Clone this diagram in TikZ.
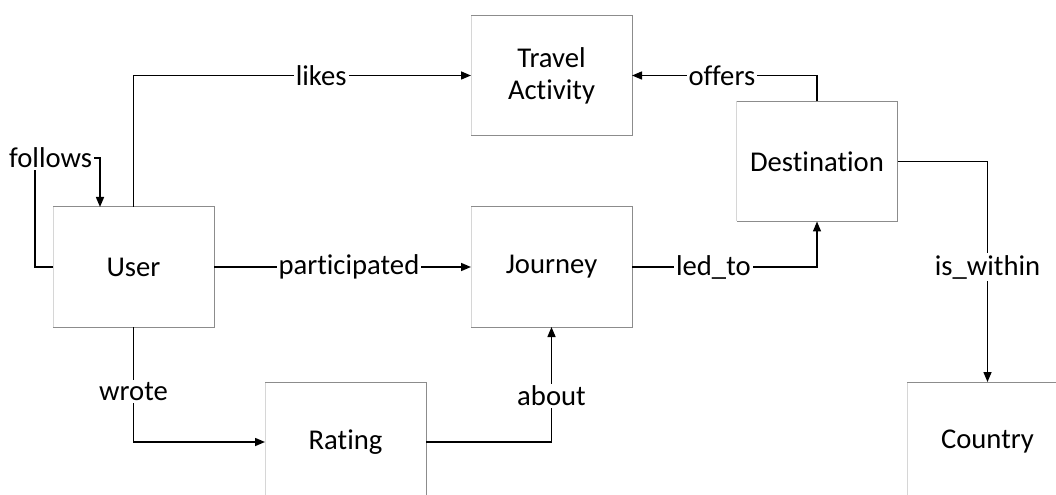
\documentclass[tikz,border=0pt]{standalone}
\usepackage{fontspec}
\setmainfont{Carlito}[Ligatures=NoCommon]
\usetikzlibrary{arrows.meta}
\definecolor{edgedark}{gray}{0.55}
\definecolor{edgelight}{gray}{0.84}
% entity frame: light left edge, darker top, right and bottom edges
\newcommand\entityedges[1]{%
  \draw[edgelight,line width=0.75pt] (#1.south west) -- (#1.north west);
  \draw[edgedark,line width=0.75pt] (#1.north west) -- (#1.north east) -- (#1.south east) -- (#1.south west);}

\begin{document}
\begin{tikzpicture}[x=0.75pt,y=-0.75pt,
  entity/.style={minimum width=120.75pt, minimum height=90pt, inner sep=0pt, outer sep=0pt,
    align=center, font=\fontsize{21.5}{24}\selectfont},
  rel/.style={line width=1.1pt, -{Triangle[length=7.5pt,width=6pt]}},
  lbl/.style={fill=white, inner sep=1.5pt, font=\fontsize{21.5}{24}\selectfont}]

\fill[white] (0,0) rectangle (1056,495);
\clip (0,0) rectangle (1056,495);

% entities
\node[entity] (travel)  at (551.5,75.5) {Travel\\Activity};
\node[entity] (user)    at (133.5,267)  {User};
\node[entity] (journey) at (551.5,267)  {Journey};
\node[entity] (dest)    at (817,161.5)  {Destination};
\node[entity] (rating)  at (345.5,442)  {Rating};
\node[entity] (country) at (987.5,442)  {Country};

\entityedges{travel}
\entityedges{user}
\entityedges{journey}
\entityedges{dest}
\entityedges{rating}
\entityedges{country}

% relationships
\draw[rel] (user.north) |- node[lbl, pos=0.778] {likes} (travel.west);

\coordinate (fw) at (35,267);
\coordinate (fc) at (35,158);
\coordinate (fe) at (100,158);
\coordinate (fu) at (100,207);
\draw[rel] (user.west) -- (fw) -- (fc) -- node[lbl, pos=0.24] {follows} (fe) -- (fu);

\draw[rel] (user.east) -- node[lbl, pos=0.525] {participated} (journey.west);
\draw[rel] (journey.east) -| node[lbl, pos=0.22] {led\_to} (dest.south);
\draw[rel] (dest.north) |- node[lbl, pos=0.757] {offers} (travel.east);
\draw[rel] (dest.east) -| node[lbl, pos=0.74] {is\_within} (country.north);
\draw[rel] (user.south) |- node[lbl, pos=0.28] {wrote} (rating.west);
\draw[rel] (rating.east) -| node[lbl, pos=0.70] {about} (journey.south);
\end{tikzpicture}
\end{document}
